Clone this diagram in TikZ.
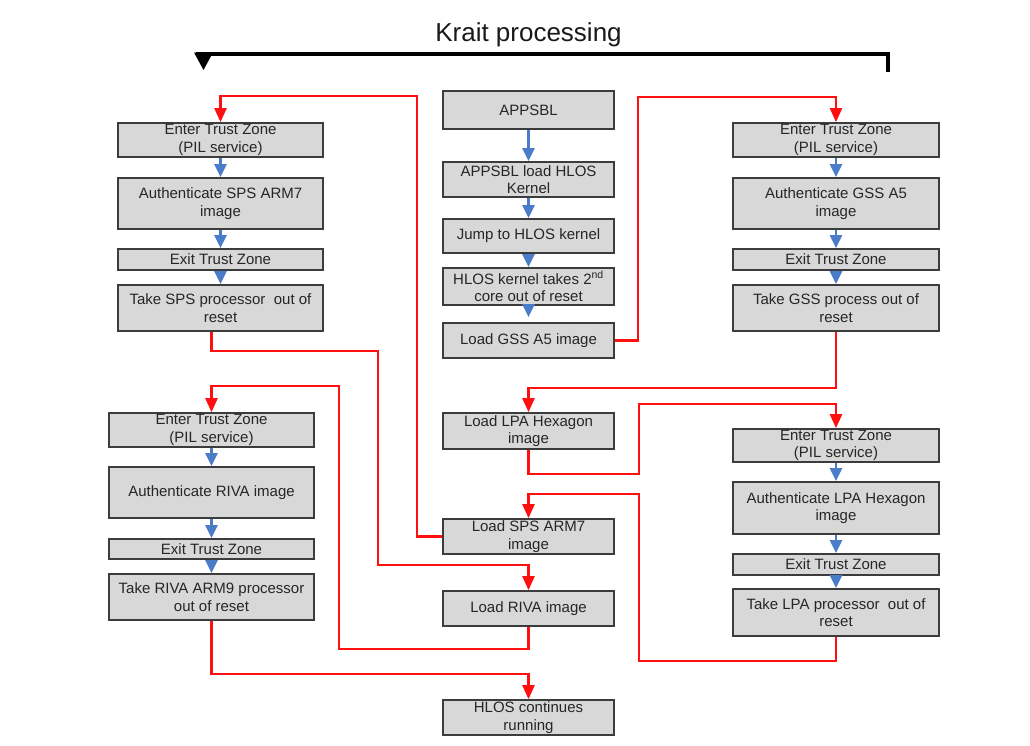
\documentclass[tikz,border=0pt]{standalone}
\usepackage{fontspec}
\setmainfont{Liberation Sans}
\usetikzlibrary{arrows.meta}
\definecolor{boxfill}{HTML}{D8D8D8}
\definecolor{boxline}{HTML}{3C3C3C}
\definecolor{flowblue}{HTML}{4A7CC9}
\definecolor{flowred}{HTML}{FF1010}
\tikzset{
  box/.style={draw=boxline, line width=1.7pt, fill=boxfill, inner sep=0pt, align=center,
    font=\fontsize{15}{17.5}\selectfont, text=black!85},
  bluearrow/.style={draw=flowblue, line width=2.6pt, -{Triangle[length=13pt,width=12pt]}},
  redarrow/.style={draw=flowred, line width=2.4pt, -{Triangle[length=14pt,width=12pt]}},
}
\newcommand\bx[6]{\node[box, minimum width=#4pt-#2pt, minimum height=#5pt-#3pt]
  (#1) at ({(#2+#4)/2},{(#3+#5)/2}) {#6};}
\begin{document}
\begin{tikzpicture}[x=1pt,y=-1pt]
\useasboundingbox (0,0) rectangle (1030,745);
% title and bracket
\node[font=\fontsize{26}{30}\selectfont, text=black!90] (title) at (528.5,35) {Krait processing};
\draw[line width=3.2pt, line cap=butt] (196,54) -- (888,54) -- (888,72);
\fill (194,52.5) -- (213,52.5) -- (203.5,70) -- cycle;
% left upper column
\bx{LE1}{118}{123}{323}{157}{Enter Trust Zone\\(PIL service)}
\bx{LA1}{118}{178}{323}{229}{Authenticate SPS ARM7\\image}
\bx{LX1}{118}{249}{323}{270}{Exit Trust Zone}
\bx{LT1}{118}{285}{323}{331}{Take SPS processor\ \ out of\\reset}
% center column
\bx{APP}{443}{91}{614}{129}{APPSBL}
\bx{LDK}{443}{162}{614}{197}{APPSBL load HLOS\\Kernel}
\bx{JMP}{443}{219}{614}{253}{Jump to HLOS kernel}
\bx{HK2}{443}{268}{614}{305}{HLOS kernel takes 2\textsuperscript{nd}\\core out of reset}
\bx{GSS}{443}{323}{614}{358}{Load GSS A5 image}
\bx{LPA}{443}{413}{614}{449}{Load LPA Hexagon\\image}
\bx{SPS}{443}{519}{614}{554}{Load SPS ARM7\\image}
\bx{RIVA}{443}{591}{614}{626}{Load RIVA image}
\bx{HCR}{443}{700}{614}{735}{HLOS continues\\running}
% right upper column
\bx{RE1}{733}{123}{939}{157}{Enter Trust Zone\\(PIL service)}
\bx{RA1}{733}{178}{939}{229}{Authenticate GSS A5\\image}
\bx{RX1}{733}{249}{939}{270}{Exit Trust Zone}
\bx{RT1}{733}{285}{939}{331}{Take GSS process out of\\reset}
% right lower column
\bx{RE2}{733}{429}{939}{462}{Enter Trust Zone\\(PIL service)}
\bx{RA2}{733}{482}{939}{534}{Authenticate LPA Hexagon\\image}
\bx{RX2}{733}{554}{939}{575}{Exit Trust Zone}
\bx{RT2}{733}{589}{939}{636}{Take LPA processor\ \ out of\\reset}
% left lower column
\bx{LE2}{109}{413}{314}{447}{Enter Trust Zone\\(PIL service)}
\bx{LA2}{109}{467}{314}{518}{Authenticate RIVA image}
\bx{LX2}{109}{539}{314}{559}{Exit Trust Zone}
\bx{LT2}{109}{574}{314}{620}{Take RIVA ARM9 processor\\out of reset}
% blue arrows
\foreach \a/\b in {APP/LDK,LDK/JMP,JMP/HK2,LE1/LA1,LA1/LX1,LX1/LT1,
  RE1/RA1,RA1/RX1,RX1/RT1,RE2/RA2,RA2/RX2,RX2/RT2,LE2/LA2,LA2/LX2,LX2/LT2}
  \draw[bluearrow] (\a.south) -- (\b.north);
\draw[bluearrow, shorten >=5pt] (HK2.south) -- (GSS.north);
% red connectors
\draw[redarrow] (SPS.west) -| (417,96) -| (LE1.north);
\draw[redarrow] (LT1.south -| LT2.south) -- ++(0,19) -| (378,565) -| (RIVA.north);
\draw[redarrow] (GSS.east) -| (638,97) -| (RE1.north);
\draw[redarrow] (RT1.south) |- (528.5,388) -- (LPA.north);
\draw[redarrow] (LPA.south) |- (639,474) |- (836,404) -- (RE2.north);
\draw[redarrow] (RT2.south) |- (639,661) |- (528.5,494) -- (SPS.north);
\draw[redarrow] (RIVA.south) |- (339,649) |- (211.5,386) -- (LE2.north);
\draw[redarrow] (LT2.south) |- (528.5,674) -- (HCR.north);
\end{tikzpicture}
\end{document}
